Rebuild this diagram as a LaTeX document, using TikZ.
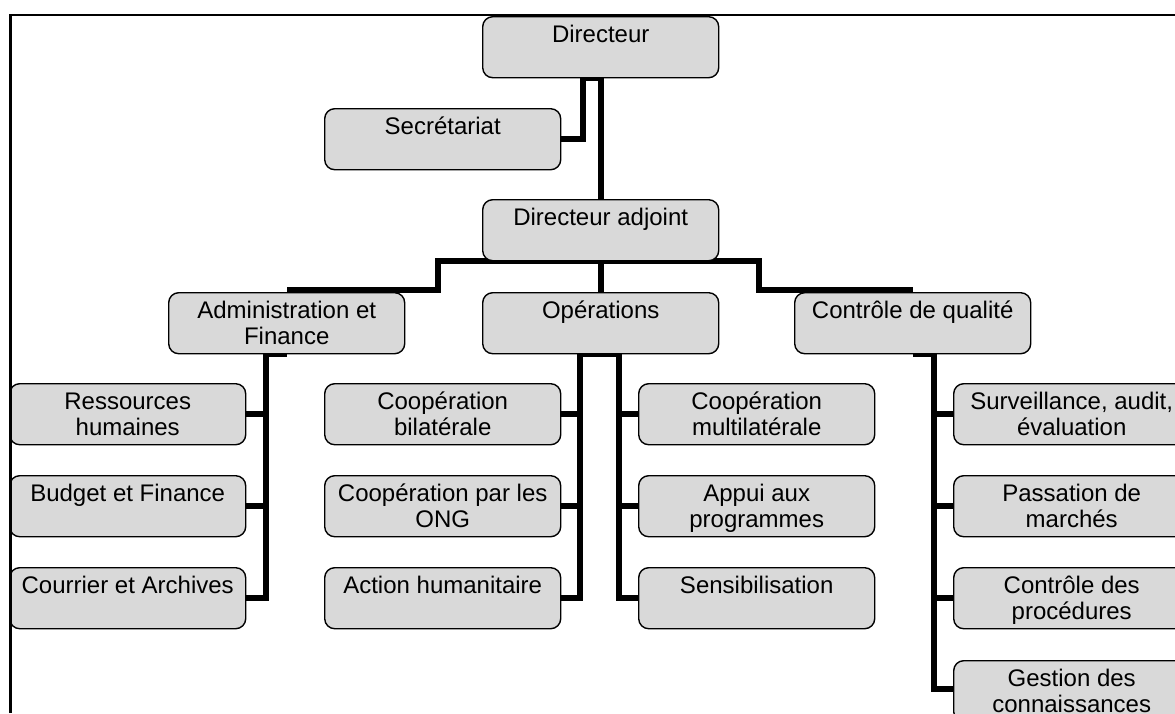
\documentclass[tikz,border=0pt]{standalone}
\usepackage{fontspec}
\setmainfont{Liberation Sans}
\usetikzlibrary{calc,backgrounds}
\definecolor{boxgray}{RGB}{217,217,217}
\newcommand\bxt[1]{\parbox[c][61pt][t]{228pt}{\centering\rule{0pt}{25.5pt}#1}}
\tikzset{
 unit/.style={draw=black, line width=1.4pt, rounded corners=10pt, fill=boxgray,
   minimum width=236pt, minimum height=61pt, inner sep=0pt, anchor=north west,
   font=\fontsize{24}{26.5}\selectfont},
 conn/.style={line width=6pt, draw=black},
 framel/.style={line width=2.7pt, draw=black}
}
\begin{document}
\begin{tikzpicture}[x=1pt,y=-1pt]
\useasboundingbox (0,0) rectangle (1175,713);
\clip (0,0) rectangle (1175,713);
\node[unit] (dir) at (482,16) {\bxt{Directeur}};
\node[unit] (sec) at (324,108) {\bxt{Secrétariat}};
\node[unit] (da) at (482,199) {\bxt{Directeur adjoint}};
\node[unit] (adm) at (168,292) {\bxt{Administration et\\Finance}};
\node[unit] (ops) at (482,292) {\bxt{Opérations}};
\node[unit] (ctl) at (794,292) {\bxt{Contrôle de qualité}};
\node[unit] (rh) at (9,383) {\bxt{Ressources\\humaines}};
\node[unit] (bf) at (9,475) {\bxt{Budget et Finance}};
\node[unit] (ca) at (9,567) {\bxt{Courrier et Archives}};
\node[unit] (cb) at (324,383) {\bxt{Coopération\\bilatérale}};
\node[unit] (cong) at (324,475) {\bxt{Coopération par les\\ONG}};
\node[unit] (ah) at (324,567) {\bxt{Action humanitaire}};
\node[unit] (cm) at (638,383) {\bxt{Coopération\\multilatérale}};
\node[unit] (ap) at (638,475) {\bxt{Appui aux\\programmes}};
\node[unit] (se) at (638,567) {\bxt{Sensibilisation}};
\node[unit] (sv) at (953,383) {\bxt{Surveillance, audit,\\évaluation}};
\node[unit] (pm) at (953,475) {\bxt{Passation de\\marchés}};
\node[unit] (cp) at (953,567) {\bxt{Contrôle des\\procédures}};
\node[unit] (gc) at (953,660) {\bxt{Gestion des\\connaissances}};
\begin{pgfonlayer}{background}
\draw[conn] (dir.south) -- ++(-18,0) |- (sec.east);
\draw[conn] (dir.south) -- (da.north);
\draw[conn] (da.south) -- ++(-162.5,0) |- ($(adm.north)+(0,-2)$);
\draw[conn] (da.south) -- (ops.north);
\draw[conn] (da.south) -- ++(158.5,0) |- ($(ctl.north)+(0,-2)$);
\foreach \c in {rh,bf,ca}{\draw[conn] (adm.south) -- ++(-21,0) |- (\c.east);}
\foreach \c in {cb,cong,ah}{\draw[conn] (ops.south) -- ++(-20.5,0) |- (\c.east);}
\foreach \c in {cm,ap,se}{\draw[conn] (ops.south) -- ++(18.5,0) |- (\c.west);}
\foreach \c in {sv,pm,cp}{\draw[conn] (ctl.south) -- ++(21,0) |- (\c.west);}
\draw[conn] (ctl.south) -- ++(21,0) |- ($(gc.north west)+(0,29)$);
\end{pgfonlayer}
\draw[framel] (10.5,713) -- (10.5,15) -- (1175,15);
\end{tikzpicture}
\end{document}
